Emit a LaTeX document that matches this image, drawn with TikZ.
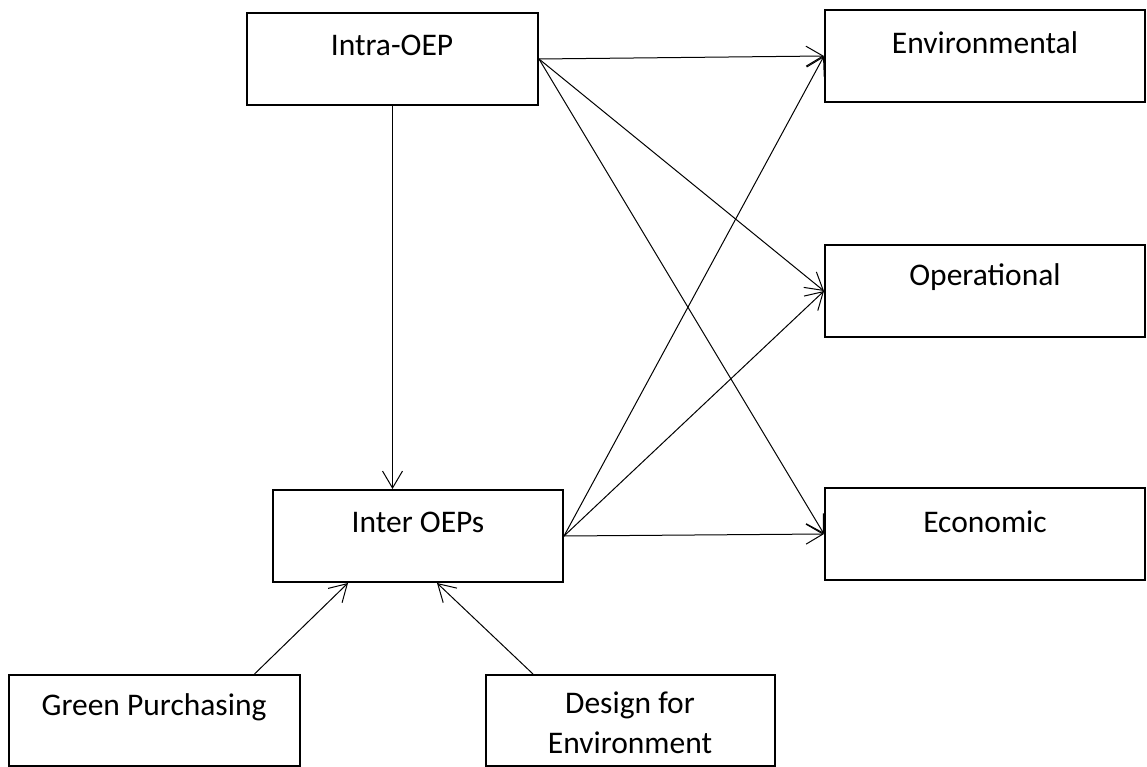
\documentclass[tikz,border=0pt]{standalone}
\usepackage{fontspec}
\setmainfont{Carlito}
\usetikzlibrary{arrows.meta}
\begin{document}
\begin{tikzpicture}[x=1pt,y=-1pt,
  box/.style={draw=black,line width=2pt,fill=white,minimum height=92pt,inner sep=0pt},
  lbl/.style={font=\fontsize{31.5}{40}\selectfont,align=center,inner sep=0pt},
  conn/.style={line width=1pt,-{Straight Barb[length=17pt,width=20pt,line width=1pt]}}]
\useasboundingbox (0,0) rectangle (1147,767);
% boxes
\node[box,minimum width=291pt] (intra) at (392.5,59) {};
\node[box,minimum width=320pt] (env) at (985,56) {};
\node[box,minimum width=320pt] (oper) at (985,291) {};
\node[box,minimum width=320pt] (econ) at (985,534) {};
\node[box,minimum width=290pt] (inter) at (418,536) {};
\node[box,minimum width=291pt,minimum height=91pt] (green) at (154.5,720.5) {};
\node[box,minimum width=289pt,minimum height=91pt] (design) at (630.5,720.5) {};
% labels
\node[lbl] (intra-t) at (392,45) {Intra-OEP};
\node[lbl] (env-t) at (985,43) {Environmental};
\node[lbl] (oper-t) at (985,277) {Operational};
\node[lbl] (econ-t) at (985,522) {Economic};
\node[lbl] (inter-t) at (418,522) {Inter OEPs};
\node[lbl] (green-t) at (154,707) {Green Purchasing};
\node[lbl] (design-t) at (630,723) {Design for\\Environment};
% connectors
\draw[conn] (intra.south) -- (intra.south |- inter.north);
\draw[conn] (intra.east) -- (env.west);
\draw[conn] (intra.east) -- (oper.west);
\draw[conn] (intra.east) -- (econ.west);
\draw[conn] (inter.east) -- (env.west);
\draw[conn] (inter.east) -- (oper.west);
\draw[conn] (inter.east) -- (econ.west);
\draw[conn] ([xshift=100pt]green.north) -- ([xshift=-70pt]inter.south);
\draw[conn] ([xshift=-97.5pt]design.north) -- ([xshift=19pt]inter.south);
\end{tikzpicture}
\end{document}
